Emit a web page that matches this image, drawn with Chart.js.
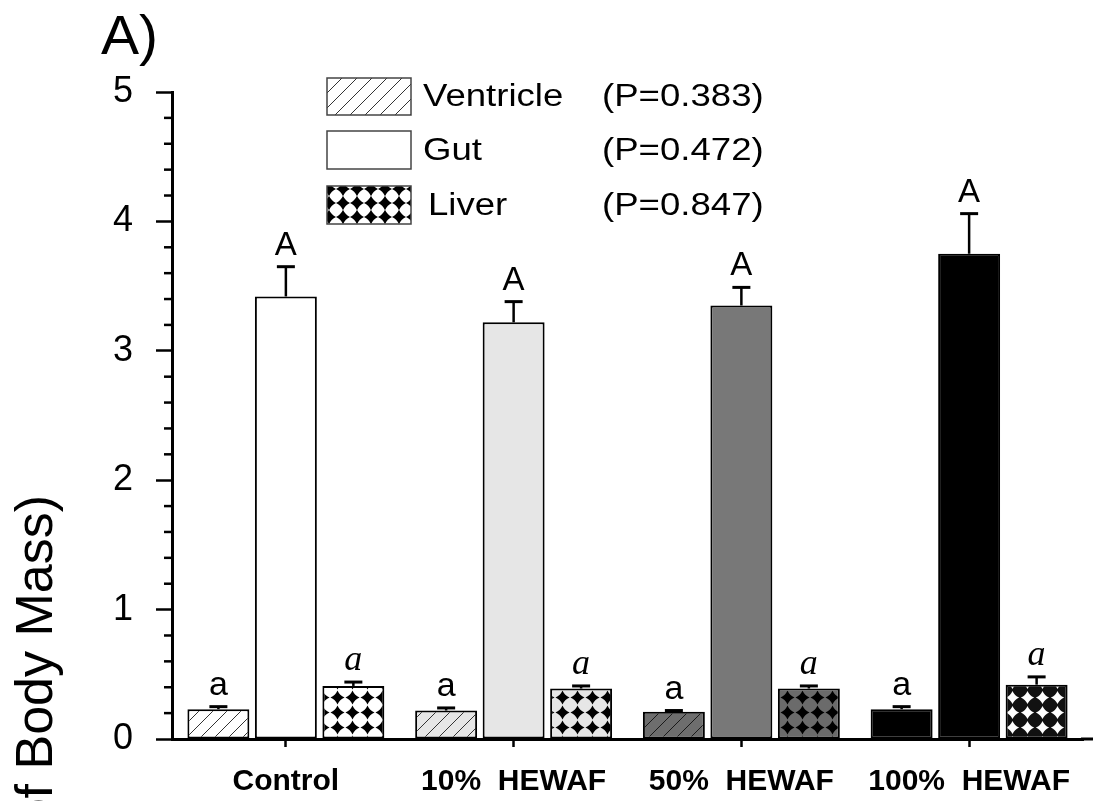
<!DOCTYPE html>
<html>
<head>
<meta charset="utf-8">
<script src="https://cdn.jsdelivr.net/npm/chart.js@4/dist/chart.umd.min.js"></script>
<style>
  html, body { margin: 0; padding: 0; background: #fff; }
  #wrap { width: 1093px; height: 801px; position: relative; }
</style>
</head>
<body>
<div id="wrap"><canvas id="c" width="1093" height="801"></canvas></div>
<script>
// ---- data ----
const categories = ['Control', '10%  HEWAF', '50%  HEWAF', '100%  HEWAF'];
const seriesNames = ['Ventricle', 'Gut', 'Liver'];
const pValues = ['(P=0.383)', '(P=0.472)', '(P=0.847)'];
const ventricle = [0.23, 0.22, 0.21, 0.23];
const ventricleErr = [0.02, 0.02, 0.01, 0.02];
const gut = [3.42, 3.22, 3.35, 3.75];
const gutErr = [0.23, 0.16, 0.14, 0.31];
const liver = [0.41, 0.39, 0.39, 0.42];
const liverErr = [0.03, 0.02, 0.02, 0.06];
const ventricleLetters = ['a', 'a', 'a', 'a'];
const gutLetters = ['A', 'A', 'A', 'A'];
const liverLetters = ['a', 'a', 'a', 'a'];
const yTicks = [0, 1, 2, 3, 4, 5];
const panelLabel = 'A)';
const yTitle = 'Organ Mass (% of Body Mass)';

const SANS = '"Liberation Sans", Arial, sans-serif';
const SERIF = '"Liberation Serif", "Times New Roman", serif';

// ---- patterns ----
function hatch(bg, line, size) {
  const s = size || 14;
  const c = document.createElement('canvas');
  c.width = s; c.height = s;
  const g = c.getContext('2d');
  g.fillStyle = bg; g.fillRect(0, 0, s, s);
  g.strokeStyle = line; g.lineWidth = 1;
  g.beginPath();
  g.moveTo(0, s); g.lineTo(s, 0);
  g.moveTo(-2, 2); g.lineTo(2, -2);
  g.moveTo(s - 2, s + 2); g.lineTo(s + 2, s - 2);
  g.stroke();
  return g.createPattern(c, 'repeat');
}
function diamonds(bg, fg, size, frac) {
  const s = size || 15;
  const c = document.createElement('canvas');
  c.width = s; c.height = s;
  const g = c.getContext('2d');
  g.fillStyle = bg; g.fillRect(0, 0, s, s);
  g.fillStyle = fg;
  const h = s / 2, r = s * (frac || 0.47);
  const k = 0.3;
  g.beginPath();
  g.moveTo(h, h - r);
  g.quadraticCurveTo(h + r * k, h - r * k, h + r, h);
  g.quadraticCurveTo(h + r * k, h + r * k, h, h + r);
  g.quadraticCurveTo(h - r * k, h + r * k, h - r, h);
  g.quadraticCurveTo(h - r * k, h - r * k, h, h - r);
  g.fill();
  return g.createPattern(c, 'repeat');
}

const ventricleBg = [hatch('#ffffff', '#333'), hatch('#e6e6e6', '#333'), hatch('#6e6e6e', '#1a1a1a'), '#000000'];
const gutBg = ['#ffffff', '#e6e6e6', '#787878', '#000000'];
const liverBg = [diamonds('#ffffff', '#000'), diamonds('#e6e6e6', '#000'), diamonds('#6b6b6b', '#000'), diamonds('#111111', '#ffffff', 15, 0.44)];

const errs = [ventricleErr, gutErr, liverErr];
const letters = [ventricleLetters, gutLetters, liverLetters];
const letterFonts = ['34px ' + SANS, '33px ' + SANS, 'italic 36px ' + SERIF];

const errorBarPlugin = {
  id: 'errorBars',
  afterDatasetsDraw(chart) {
    const ctx = chart.ctx;
    const ys = chart.scales.y;
    ctx.save();
    chart.data.datasets.forEach((ds, di) => {
      const meta = chart.getDatasetMeta(di);
      meta.data.forEach((bar, i) => {
        const v = ds.data[i];
        const top = ys.getPixelForValue(v + errs[di][i]);
        ctx.strokeStyle = '#000';
        ctx.lineWidth = 2.5;
        ctx.beginPath();
        ctx.moveTo(bar.x, bar.y);
        ctx.lineTo(bar.x, top);
        ctx.stroke();
        ctx.lineWidth = 3;
        ctx.beginPath();
        ctx.moveTo(bar.x - 9, top);
        ctx.lineTo(bar.x + 9, top);
        ctx.stroke();
        ctx.fillStyle = '#000';
        ctx.font = letterFonts[di];
        ctx.textAlign = 'center';
        ctx.textBaseline = 'alphabetic';
        ctx.fillText(letters[di][i], bar.x, top - 12);
      });
    });
    ctx.restore();
  }
};

function wideText(ctx, text, x, y, sx) {
  ctx.save();
  ctx.translate(x, y);
  ctx.scale(sx, 1);
  ctx.fillText(text, 0, 0);
  ctx.restore();
}

const decorPlugin = {
  id: 'decor',
  afterDraw(chart) {
    const ctx = chart.ctx;
    const ys = chart.scales.y;
    const area = chart.chartArea;
    ctx.save();
    // minor ticks
    ctx.strokeStyle = '#000';
    ctx.lineWidth = 2.5;
    for (let k = 0; k <= 25; k++) {
      if (k % 5 === 0) continue;
      const py = ys.getPixelForValue(k * 0.2);
      ctx.beginPath();
      ctx.moveTo(area.left - 8, py);
      ctx.lineTo(area.left, py);
      ctx.stroke();
    }
    // extend x axis line
    ctx.lineWidth = 3;
    ctx.beginPath();
    ctx.moveTo(area.right - 2, ys.getPixelForValue(0));
    ctx.lineTo(1093, ys.getPixelForValue(0));
    ctx.stroke();
    // panel label
    ctx.fillStyle = '#000';
    ctx.font = '56px ' + SANS;
    ctx.textAlign = 'left';
    ctx.textBaseline = 'alphabetic';
    wideText(ctx, panelLabel, 101, 54, 1.02);
    // y title (rotated, cut by the canvas edge)
    ctx.save();
    ctx.translate(52, 495);
    ctx.rotate(-Math.PI / 2);
    ctx.font = '52px ' + SANS;
    ctx.textAlign = 'right';
    ctx.textBaseline = 'alphabetic';
    ctx.fillText(yTitle, 0, 0);
    ctx.restore();
    // legend
    const boxes = [[327, 78, 84, 37], [327, 131, 84, 38], [327, 186, 84, 38]];
    const fills = [hatch('#ffffff', '#333', 15), '#ffffff', diamonds('#ffffff', '#000', 14, 0.52)];
    const textX = [423, 423, 428];
    boxes.forEach((b, i) => {
      ctx.fillStyle = fills[i];
      ctx.fillRect(b[0], b[1], b[2], b[3]);
      ctx.strokeStyle = '#444';
      ctx.lineWidth = 1.5;
      ctx.strokeRect(b[0], b[1], b[2], b[3]);
      ctx.fillStyle = '#000';
      ctx.font = '31px ' + SANS;
      ctx.textAlign = 'left';
      ctx.textBaseline = 'middle';
      const cy = b[1] + b[3] / 2 + 1;
      wideText(ctx, seriesNames[i], textX[i], cy, 1.18);
      wideText(ctx, pValues[i], 602, cy, 1.18);
    });
    ctx.restore();
  }
};

const common = { borderColor: '#000', borderWidth: 2, borderSkipped: false,
                 categoryPercentage: 0.889, barPercentage: 0.918 };

new Chart(document.getElementById('c'), {
  type: 'bar',
  data: {
    labels: categories,
    datasets: [
      Object.assign({ label: seriesNames[0], data: ventricle, backgroundColor: ventricleBg }, common),
      Object.assign({ label: seriesNames[1], data: gut, backgroundColor: gutBg }, common),
      Object.assign({ label: seriesNames[2], data: liver, backgroundColor: liverBg }, common)
    ]
  },
  options: {
    responsive: false,
    animation: false,
    events: [],
    layout: { padding: { top: 92, right: 10, left: 0, bottom: 0 } },
    plugins: { legend: { display: false }, tooltip: { enabled: false }, title: { display: false } },
    scales: {
      x: {
        offset: true,
        grid: { display: true, drawOnChartArea: false, drawTicks: true, offset: false,
                tickLength: 8, tickColor: '#000', tickWidth: 2.5 },
        border: { display: true, color: '#000', width: 3 },
        ticks: { color: '#000', font: { family: SANS, size: 30, weight: 'bold' }, padding: 17, maxRotation: 0, autoSkip: false },
        afterFit(s) { s.height = 62; }
      },
      y: {
        min: 0, max: 5,
        afterBuildTicks(s) { s.ticks = yTicks.map(v => ({ value: v })); },
        grid: { display: true, drawOnChartArea: false, drawTicks: true,
                tickLength: 16, tickColor: '#000', tickWidth: 2.5 },
        border: { display: true, color: '#000', width: 3 },
        ticks: { color: '#000', font: { family: SANS, size: 36 }, padding: 23 },
        afterFit(s) { s.width = 172; }
      }
    }
  },
  plugins: [errorBarPlugin, decorPlugin]
});
</script>
</body>
</html>
